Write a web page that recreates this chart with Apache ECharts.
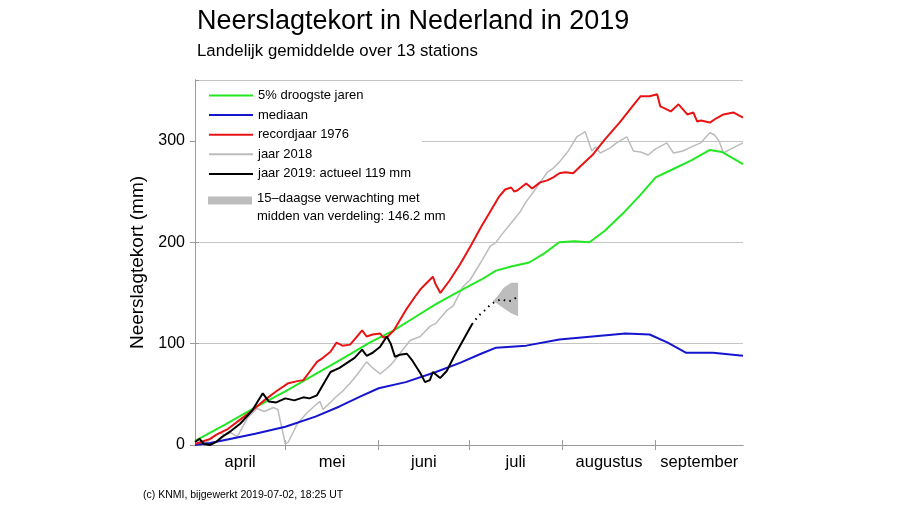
<!DOCTYPE html>
<html><head><meta charset="utf-8">
<script src="https://cdn.jsdelivr.net/npm/echarts@6/dist/echarts.min.js"></script>
<style>html,body{margin:0;padding:0;background:#fff}#c{width:900px;height:505px}</style>
</head><body><div id="c"></div>
<script>
// x = day number counted from 1 April (0) to 30 September (182); y = precipitation deficit in mm
const monthNames = ['april','mei','juni','juli','augustus','september'];
const monthStarts = [30,61,91,122,153];
const monthMids = [15,45.5,76,106.5,137.5,167.5];

const droogste5 = [[0,4],[10,20],[20,37],[30,53],[40,70],[50,87],[58,101],[66,113],[73,126],[80,139],[88,152],[95,163],[100,172],[105,176],[111,180],[116,189],[121,200],[126,201],[131,200],[136,211],[142,228],[148,247],[153,264],[158,271],[165,281],[171,291],[175,289],[182,277]];

const mediaan = [[0,0],[5,2],[10,5],[20,11],[30,18],[40,28],[48,38],[55,48],[61,56],[70,62],[80,72],[88,81],[95,90],[100,96],[110,98],[121,104],[132,107],[143,110],[151,109],[157,101],[163,91],[172,91],[182,88]];

const record1976 = [[0,1],[3,4],[5,6],[7,10],[11,16],[15,25],[19,34],[23,44],[27,53],[31,61],[34,63],[36,64],[38,72],[40.5,82],[42.5,86],[45,92],[47,101],[49,98],[51.5,99],[53.5,106],[55.5,113],[57,107],[59,109],[61.5,110],[62.5,106],[64,107],[66,113],[70,133],[73,146],[75,154],[77,160],[79,166],[80,158],[81.5,150],[84.5,162],[88,178],[91.5,196],[95,215],[99,235],[101,245],[103,252],[105,254],[106,250],[107,251],[110,258],[112,253],[114.6,259],[117,261],[119,264],[121,268],[123,269],[125.6,268],[128,275],[132,286],[136,301],[141,318],[145,333],[148,344],[151,344],[153.5,346],[154.5,334],[156,332],[158,329],[160.6,336],[163.5,326],[165.5,328],[166.8,319],[168,320],[171,318],[173,322],[175.5,326],[178.8,328],[182,323]];

const jaar2018 = [[0,0],[4,3],[8,12],[10,10],[12,12],[14,8],[17.5,27],[20.6,36],[23,33],[26,37],[27.5,35],[30,1],[31,3],[34,21],[37,31],[39.5,38],[41.5,43],[42.5,35],[45,42],[47,48],[49,53],[51.5,61],[54,70],[57,82],[59,76],[61.5,70],[63.5,75],[65,79],[67,86],[69,94],[71.4,103],[74.8,107],[78,117],[80,120],[83.7,133],[85.7,137],[89,156],[91.4,163],[94.7,179],[98,196],[100,200],[102,208],[105.8,222],[108,230],[110,240],[113,252],[117,269],[119,273],[121,279],[124,290],[126.8,304],[129.6,309],[131.8,290],[133,294],[134.6,288],[137.9,293],[140,298],[143.4,304],[145.6,290],[148,289],[150.5,286],[153,292],[156.7,298],[158.9,288],[162,290],[165.6,295],[168,298],[171,308],[172.5,306],[174,300],[175.5,288],[178,292],[182,298]];

const jaar2019 = [[0,3],[1.5,6],[3,1],[5,0],[7,3],[9,8],[12,14],[15,21],[19,34],[22.5,51],[24.5,43],[27,42],[30,46],[33,44],[36,47],[38,46],[40.5,49],[43,62],[45,72],[48,76],[50,80],[53,86],[55.5,94],[57,88],[59,91],[61.5,97],[63.7,107],[65,100],[66.4,87],[68,89],[70.4,90],[72,84],[74.8,71],[76.4,62],[78,64],[79,72],[81.4,66],[83.6,73],[86,87],[89,103],[92,119]];

const verwachtingMidden = [[92,119],[94,127],[96.3,133],[98,138],[99.7,141.5],[102,144],[103.6,141.5],[105.3,142.4],[107,146.2]];
const bandDays = [99,100.5,102.5,105,107.3];
const bandLow  = [142,139,135,130,127];
const bandHigh = [142,147,155,160,160];

const names = ['5% droogste jaren','mediaan','recordjaar 1976','jaar 2018','jaar 2019: actueel 119 mm'];
const fcLines = ['15\u2013daagse verwachting met','midden van verdeling: 146.2 mm'];
const fcName = fcLines.join('\n');

const axisGray = '#9a9a9a';
const font = '"Liberation Sans", Arial, Helvetica, sans-serif';

const chart = echarts.init(document.getElementById('c'), null, {renderer:'canvas'});

function lineSeries(name, data, color, width, z){
  return {name, type:'line', data, showSymbol:false, symbol:'none', smooth:false,
    lineStyle:{color, width}, itemStyle:{color}, z: z||3, animation:false};
}

chart.setOption({
  animation:false,
  textStyle:{fontFamily:font, color:'#000'},
  title:[
    {text:'Neerslagtekort in Nederland in 2019', left:192, top:3, textStyle:{fontSize:27, fontWeight:'normal', color:'#000', fontFamily:font}},
    {text:'Landelijk gemiddelde over 13 stations', left:192, top:38, textStyle:{fontSize:16.8, fontWeight:'normal', color:'#000', fontFamily:font}},
    {text:'(c) KNMI, bijgewerkt 2019-07-02, 18:25 UT', left:138, top:485, textStyle:{fontSize:10.5, fontWeight:'normal', color:'#000', fontFamily:font}}
  ],
  grid:{left:195, right:157, top:80, bottom:60, containLabel:false},
  graphic:{elements:[{type:'rect', z:1, shape:{x:196, y:81, width:226, height:146}, style:{fill:'#fff'}, silent:true}]},
  legend:[
    {data:names, orient:'vertical', left:203, top:84, itemWidth:44, itemHeight:14, itemGap:6.6,
     itemStyle:{opacity:0},
     textStyle:{fontSize:13, color:'#000', fontFamily:font}},
    {data:[{name:fcName, icon:'rect', itemStyle:{color:'#bdbdbd', opacity:1}}], orient:'vertical', left:203, top:187,
     itemWidth:44, itemHeight:8,
     formatter: n => '{a|' + fcLines[0] + '}\n{b|' + fcLines[1] + '}',
     textStyle:{fontSize:13, color:'#000', fontFamily:font,
       rich:{a:{fontSize:13, lineHeight:32, fontFamily:font, color:'#000'}, b:{fontSize:13, lineHeight:4, fontFamily:font, color:'#000'}}}}
  ],
  xAxis:[
    {type:'value', min:0, max:182, position:'bottom',
     axisLine:{show:true, lineStyle:{color:axisGray, width:1}},
     axisTick:{show:true, customValues:monthStarts, length:5, lineStyle:{color:axisGray}},
     axisLabel:{show:true, customValues:monthMids, fontSize:16.5, color:'#000', margin:9, fontFamily:font,
       formatter:v=>{const i=monthMids.indexOf(v); return i>=0?monthNames[i]:'';}},
     splitLine:{show:false}},
    {type:'value', min:0, max:182, position:'top',
     axisLine:{show:true, lineStyle:{color:axisGray, width:1}},
     axisTick:{show:true, customValues:monthStarts, length:5, lineStyle:{color:axisGray}},
     axisLabel:{show:false}, splitLine:{show:false}}
  ],
  yAxis:[
    {type:'value', min:0, max:360, interval:100, position:'left',
     name:'Neerslagtekort (mm)', nameLocation:'middle', nameGap:45, nameRotate:90,
     nameTextStyle:{fontSize:19, color:'#000', fontFamily:font},
     axisLine:{show:true, lineStyle:{color:axisGray, width:1}},
     axisTick:{show:true, length:5, lineStyle:{color:axisGray}},
     axisLabel:{fontSize:16, color:'#000', margin:10, showMaxLabel:false, fontFamily:font},
     splitLine:{show:true, lineStyle:{color:'#c4c4c4', width:1}}},
    {type:'value', min:0, max:360, interval:100, position:'right',
     axisLine:{show:true, lineStyle:{color:axisGray, width:1}},
     axisTick:{show:true, length:4, lineStyle:{color:axisGray}},
     axisLabel:{show:false}, splitLine:{show:false}}
  ],
  series:[
    {name:fcName, type:'custom', coordinateSystem:'cartesian2d', data:[[bandDays[0], bandLow[0]]],
     itemStyle:{color:'#bdbdbd'}, z:2, silent:true,
     renderItem:(params, api)=>{
       const top = bandDays.map((d,i)=>api.coord([d, bandHigh[i]]));
       const bottom = bandDays.map((d,i)=>api.coord([d, bandLow[i]])).reverse();
       return {type:'polygon', shape:{points: top.concat(bottom)}, style:{fill:'#bdbdbd'}};
     }},
    {name:fcName, type:'line', data:verwachtingMidden, showSymbol:false, symbol:'none',
     lineStyle:{color:'#000', width:2, type:[1.5,4.5]}, itemStyle:{color:'#bdbdbd'}, z:3},
    lineSeries(names[3], jaar2018, '#bcbcbc', 1.5, 3),
    lineSeries(names[1], mediaan, '#1515d0', 2, 4),
    lineSeries(names[0], droogste5, '#22e822', 2, 4),
    lineSeries(names[2], record1976, '#e81414', 2, 5),
    lineSeries(names[4], jaar2019, '#000000', 2, 6)
  ]
});
</script>
</body></html>
